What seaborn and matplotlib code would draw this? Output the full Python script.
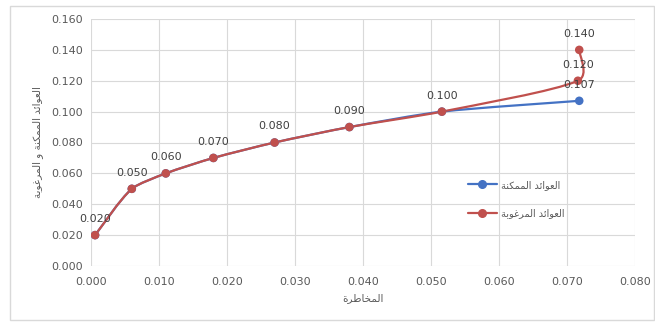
import matplotlib
matplotlib.use("Agg")
import math
import matplotlib.pyplot as plt
from matplotlib.path import Path
from matplotlib.patches import PathPatch, Rectangle
from matplotlib.lines import Line2D
import seaborn as sns
import pandas as pd

# Portfolio risk / return points
risk_possible = [0.0006, 0.0060, 0.0110, 0.0180, 0.0270, 0.0380, 0.0516, 0.0718]
ret_possible = [0.020, 0.050, 0.060, 0.070, 0.080, 0.090, 0.100, 0.107]
risk_desired = [0.0006, 0.0060, 0.0110, 0.0180, 0.0270, 0.0380, 0.0516, 0.0716, 0.0718]
ret_desired = [0.020, 0.050, 0.060, 0.070, 0.080, 0.090, 0.100, 0.120, 0.140]

x_ticks = [0.000, 0.010, 0.020, 0.030, 0.040, 0.050, 0.060, 0.070, 0.080]
y_ticks = [0.000, 0.020, 0.040, 0.060, 0.080, 0.100, 0.120, 0.140, 0.160]

label_possible = "العوائد الممكنة"
label_desired = "العوائد المرغوبة"
x_title = "المخاطرة"
y_title = "العوائد الممكنة و المرغوبة"

BLUE = "#4472C4"
RED = "#C0504D"
TEXT = "#595959"
GRID = "#D9D9D9"

# Contextual Arabic forms: isolated, final, initial, medial
FORMS = {
    "ا": (0xFE8D, 0xFE8E, None, None),
    "ل": (0xFEDD, 0xFEDE, 0xFEDF, 0xFEE0),
    "ع": (0xFEC9, 0xFECA, 0xFECB, 0xFECC),
    "و": (0xFEED, 0xFEEE, None, None),
    "ئ": (0xFE89, 0xFE8A, 0xFE8B, 0xFE8C),
    "د": (0xFEA9, 0xFEAA, None, None),
    "م": (0xFEE1, 0xFEE2, 0xFEE3, 0xFEE4),
    "ك": (0xFED9, 0xFEDA, 0xFEDB, 0xFEDC),
    "ن": (0xFEE5, 0xFEE6, 0xFEE7, 0xFEE8),
    "ة": (0xFE93, 0xFE94, None, None),
    "ر": (0xFEAD, 0xFEAE, None, None),
    "غ": (0xFECD, 0xFECE, 0xFECF, 0xFED0),
    "ب": (0xFE8F, 0xFE90, 0xFE91, 0xFE92),
    "خ": (0xFEA5, 0xFEA6, 0xFEA7, 0xFEA8),
    "ط": (0xFEC1, 0xFEC2, 0xFEC3, 0xFEC4),
}


def shape(text):
    """Join Arabic letters and lay them out right-to-left."""
    out = []
    for i, ch in enumerate(text):
        if ch not in FORMS:
            out.append(ch)
            continue
        prev = text[i - 1] if i > 0 else ""
        nxt = text[i + 1] if i + 1 < len(text) else ""
        join_prev = prev in FORMS and FORMS[prev][2] is not None
        join_next = nxt in FORMS and FORMS[ch][2] is not None
        iso, fin, ini, med = FORMS[ch]
        if join_prev and join_next:
            code = med
        elif join_prev:
            code = fin
        elif join_next:
            code = ini
        else:
            code = iso
        out.append(chr(code))
    return "".join(reversed(out))


def smooth_path(xs, ys, sx, sy, limit=0.25):
    """Bezier path through the points; control arms limited to a share
    of the segment length (measured in axis-normalised units)."""
    pts = list(zip(xs, ys))
    verts = [pts[0]]
    codes = [Path.MOVETO]
    n = len(pts)

    def arm(vec, seg):
        vx, vy = vec
        ln = math.hypot(vx / sx, vy / sy)
        cap = limit * seg
        if ln > cap and ln > 0:
            k = cap / ln
            vx, vy = vx * k, vy * k
        return vx, vy

    for i in range(n - 1):
        p0 = pts[i - 1] if i > 0 else pts[i]
        p1 = pts[i]
        p2 = pts[i + 1]
        p3 = pts[i + 2] if i + 2 < n else pts[i + 1]
        seg = math.hypot((p2[0] - p1[0]) / sx, (p2[1] - p1[1]) / sy)
        a1 = arm(((p2[0] - p0[0]) / 6, (p2[1] - p0[1]) / 6), seg)
        a2 = arm(((p3[0] - p1[0]) / 6, (p3[1] - p1[1]) / 6), seg)
        c1 = (p1[0] + a1[0], p1[1] + a1[1])
        c2 = (p2[0] - a2[0], p2[1] - a2[1])
        verts += [c1, c2, p2]
        codes += [Path.CURVE4] * 3
    return Path(verts, codes)


sns.set_theme(style="whitegrid")
plt.rcParams["font.family"] = ["DejaVu Sans"]

fig = plt.figure(figsize=(6.55, 3.22), dpi=100)
ax = fig.add_axes([91 / 655, 56 / 322, 544 / 655, 247 / 322])

# outer chart frame
fig.patches.append(Rectangle((10 / 655, 2 / 322), 644 / 655, 314 / 322,
                             transform=fig.transFigure, fill=False,
                             edgecolor=GRID, linewidth=1.0))

df_pos = pd.DataFrame({"risk": risk_possible, "ret": ret_possible})
df_des = pd.DataFrame({"risk": risk_desired, "ret": ret_desired})

x_span = x_ticks[-1] - x_ticks[0]
y_span = y_ticks[-1] - y_ticks[0]
for xs, ys, col, z in [(risk_possible, ret_possible, BLUE, 2),
                       (risk_desired, ret_desired, RED, 3)]:
    ax.add_patch(PathPatch(smooth_path(xs, ys, x_span, y_span),
                           facecolor="none", edgecolor=col, linewidth=1.6,
                           zorder=z, capstyle="round"))

sns.scatterplot(data=df_pos, x="risk", y="ret", color=BLUE, s=38,
                edgecolor="none", zorder=4, ax=ax, legend=False)
sns.scatterplot(data=df_des, x="risk", y="ret", color=RED, s=38,
                edgecolor="none", zorder=5, ax=ax, legend=False)

# value labels
for xv, yv in zip(risk_desired, ret_desired):
    ax.annotate(f"{yv:.3f}", (xv, yv), xytext=(0, 8), textcoords="offset points",
                ha="center", va="bottom", fontsize=8, color="#404040", zorder=6)
ax.annotate(f"{ret_possible[-1]:.3f}", (risk_possible[-1], ret_possible[-1]),
            xytext=(0, 8), textcoords="offset points", ha="center", va="bottom",
            fontsize=8, color="#404040", zorder=6)

ax.set_xlim(x_ticks[0], x_ticks[-1])
ax.set_ylim(y_ticks[0], y_ticks[-1])
ax.set_xticks(x_ticks)
ax.set_yticks(y_ticks)
ax.set_xticklabels([f"{v:.3f}" for v in x_ticks])
ax.set_yticklabels([f"{v:.3f}" for v in y_ticks])
ax.tick_params(axis="both", length=0, labelsize=8, labelcolor=TEXT)
ax.tick_params(axis="x", pad=8)
ax.tick_params(axis="y", pad=6)
ax.grid(True, color=GRID, linewidth=0.8)
ax.set_facecolor("white")
for sp in ax.spines.values():
    sp.set_visible(False)
ax.set_axisbelow(True)

ax.set_xlabel(shape(x_title), fontsize=7.5, color=TEXT, labelpad=4)
ax.set_ylabel(shape(y_title), fontsize=7.5, color=TEXT, labelpad=6)

handles = [
    Line2D([], [], color=BLUE, lw=1.6, marker="o", markersize=5.5),
    Line2D([], [], color=RED, lw=1.6, marker="o", markersize=5.5),
]
ax.legend(handles, [shape(label_possible), shape(label_desired)],
          loc="upper left", bbox_to_anchor=(373 / 544, 90 / 247),
          frameon=False, fontsize=7, labelcolor=TEXT, handlelength=3.0,
          handletextpad=0.4, labelspacing=1.9, borderaxespad=0)

fig.savefig("out.png", dpi=100, facecolor="white")
